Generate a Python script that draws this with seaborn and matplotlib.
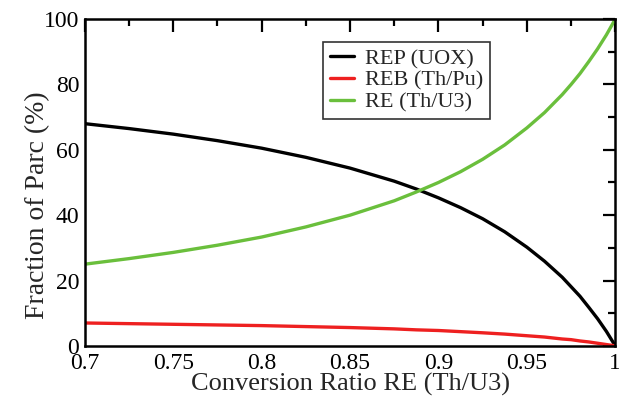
import matplotlib
matplotlib.use('Agg')
import matplotlib.pyplot as plt
import numpy as np
import pandas as pd
import seaborn as sns
from matplotlib.ticker import MultipleLocator, FuncFormatter

# Values (conversion ratio vs. fleet share in %)
conversion_ratio = [0.70, 0.725, 0.75, 0.775, 0.80, 0.825, 0.85, 0.875, 0.8875,
                    0.90, 0.9125, 0.925, 0.9375, 0.95, 0.96, 0.97, 0.975, 0.98,
                    0.985, 0.99, 0.995, 1.00]
rep_uox = [68.0, 66.5, 64.8, 62.8, 60.5, 57.7, 54.4, 50.4, 48.0,
           45.3, 42.3, 38.9, 34.9, 30.2, 25.9, 21.0, 18.1, 15.2,
           11.8, 8.3, 4.4, 0.0]
reb_thpu = [7.0, 6.8, 6.6, 6.4, 6.2, 5.9, 5.6, 5.2, 4.9,
            4.7, 4.35, 4.0, 3.6, 3.1, 2.7, 2.1, 1.9, 1.5,
            1.2, 0.8, 0.4, 0.0]
re_thu3 = [25.0, 26.7, 28.6, 30.8, 33.3, 36.4, 40.0, 44.4, 47.1,
           50.0, 53.3, 57.1, 61.5, 66.7, 71.4, 76.9, 80.0, 83.3,
           87.0, 90.9, 95.2, 100.0]

series_names = ['REP (UOX)', 'REB (Th/Pu)', 'RE (Th/U3)']
series_colors = ['black', '#ee2020', '#6abf3c']

df = pd.DataFrame({'x': conversion_ratio * 3,
                   'y': rep_uox + reb_thpu + re_thu3,
                   'serie': np.repeat(series_names, len(conversion_ratio))})

sns.set_style('white')
plt.rcParams['font.family'] = ['Liberation Serif', 'DejaVu Serif']

fig = plt.figure(figsize=(6.19, 3.98), dpi=100)
ax = fig.add_axes([0.137, 0.131, 0.857, 0.821])

sns.lineplot(data=df, x='x', y='y', hue='serie', hue_order=series_names,
             palette=series_colors, linewidth=2.4, ax=ax)

ax.set_xlim(0.7, 1.0)
ax.set_ylim(0, 100)
ax.xaxis.set_major_locator(MultipleLocator(0.05))
ax.xaxis.set_minor_locator(MultipleLocator(0.025))
ax.yaxis.set_major_locator(MultipleLocator(20))
ax.yaxis.set_minor_locator(MultipleLocator(10))
ax.xaxis.set_major_formatter(FuncFormatter(lambda v, p: f'{v:g}'))

ax.tick_params(which='both', direction='in', top=True, right=True,
               width=1.6, labelsize=17, colors='black')
ax.tick_params(which='major', length=9)
ax.tick_params(which='minor', length=5)
ax.tick_params(axis='x', which='major', pad=5)
ax.tick_params(axis='y', which='major', pad=4)
for s in ax.spines.values():
    s.set_linewidth(1.8)
    s.set_color('black')

ax.set_xlabel('Conversion Ratio RE (Th/U3)', fontsize=19, labelpad=-1)
ax.set_ylabel('Fraction of Parc (%)', fontsize=20)
ax.yaxis.set_label_coords(-0.066, 0.43)

leg = ax.legend(loc='upper left', bbox_to_anchor=(0.449, 0.93), fontsize=16,
                frameon=True, fancybox=False, handlelength=1.08,
                borderpad=0.3, labelspacing=0.05, handletextpad=0.5,
                borderaxespad=0)
leg.get_frame().set_edgecolor('black')
leg.get_frame().set_linewidth(1.2)
for line in leg.get_lines():
    line.set_linewidth(2.4)

fig.savefig('out.png', dpi=100)
